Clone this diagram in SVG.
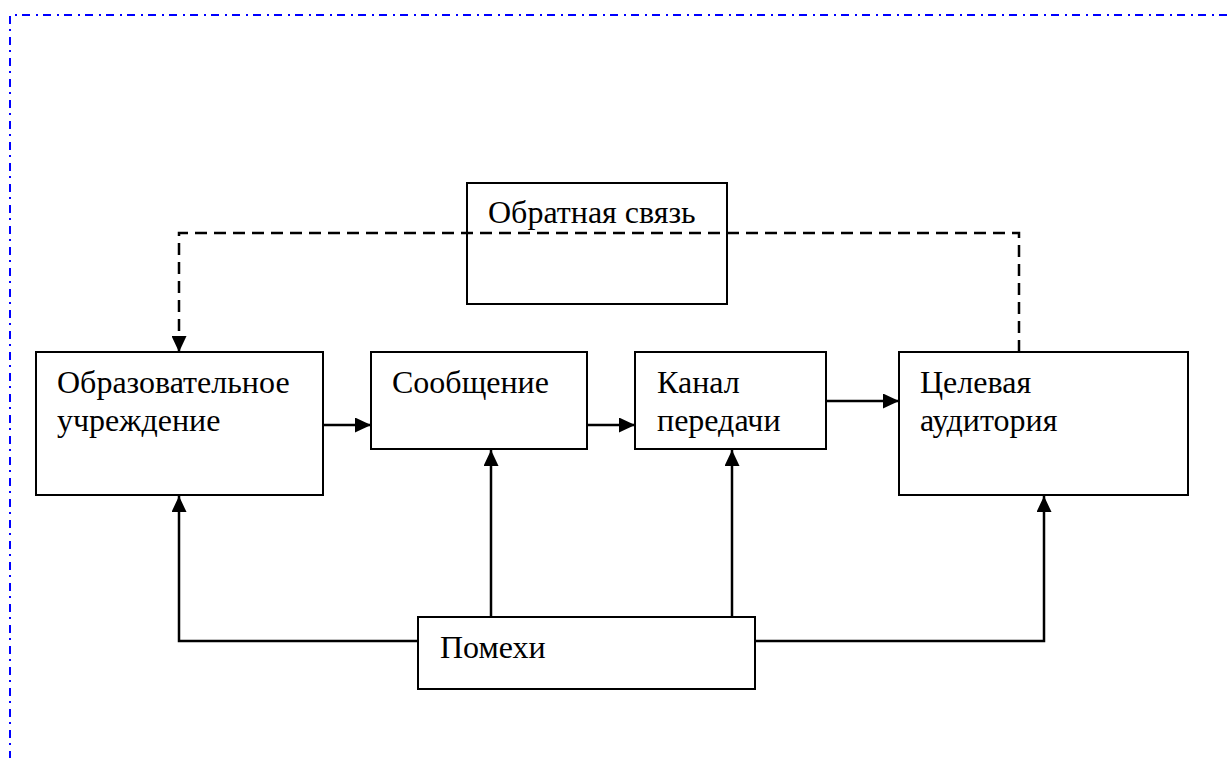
<svg xmlns="http://www.w3.org/2000/svg" width="1227" height="758" viewBox="0 0 1227 758">
<style>
.box{fill:#fff;stroke:#000;stroke-width:2}
.t{font-family:"Liberation Serif","Times New Roman",serif;font-size:32px;fill:#000}
.ln{fill:none;stroke:#000;stroke-width:2.5}
.dash{fill:none;stroke:#000;stroke-width:2.5;stroke-dasharray:12 7}
.frame{fill:none;stroke:#00f;stroke-width:2;stroke-dasharray:8 5 2 6}
</style>
<defs>
<marker id="ah" markerWidth="16" markerHeight="15" refX="16" refY="7.5" orient="auto" markerUnits="userSpaceOnUse">
<path d="M0,0 L16,7.5 L0,15 Z" fill="#000"/>
</marker>
</defs>
<path class="frame" d="M1227,15 H10 V758"/>
<g id="feedback">
<rect class="box" x="467" y="183" width="260" height="121"/>
<text class="t" x="488" y="223">Обратная связь</text>
</g>
<g id="institution">
<rect class="box" x="36" y="352" width="287" height="143"/>
<text class="t" x="57" y="393">Образовательное</text>
<text class="t" x="57" y="431">учреждение</text>
</g>
<g id="message">
<rect class="box" x="371" y="352" width="216" height="97"/>
<text class="t" x="392" y="393">Сообщение</text>
</g>
<g id="channel">
<rect class="box" x="635" y="352" width="191" height="97"/>
<text class="t" x="657" y="393">Канал</text>
<text class="t" x="657" y="431">передачи</text>
</g>
<g id="audience">
<rect class="box" x="899" y="352" width="289" height="143"/>
<text class="t" x="920" y="393">Целевая</text>
<text class="t" x="920" y="431">аудитория</text>
</g>
<g id="noise">
<rect class="box" x="418" y="617" width="337" height="72"/>
<text class="t" x="440" y="658">Помехи</text>
</g>
<g id="connectors">
<path class="dash" d="M1019,352 V233 H179 V336"/>
<path class="ln" d="M179,338 V352" marker-end="url(#ah)"/>
<path class="ln" d="M323,425 H371" marker-end="url(#ah)"/>
<path class="ln" d="M587,425 H635" marker-end="url(#ah)"/>
<path class="ln" d="M826,401 H899" marker-end="url(#ah)"/>
<path class="ln" d="M418,641 H179 V496" marker-end="url(#ah)"/>
<path class="ln" d="M491,617 V450" marker-end="url(#ah)"/>
<path class="ln" d="M732,617 V450" marker-end="url(#ah)"/>
<path class="ln" d="M755,641 H1044 V496" marker-end="url(#ah)"/>
</g>
</svg>
